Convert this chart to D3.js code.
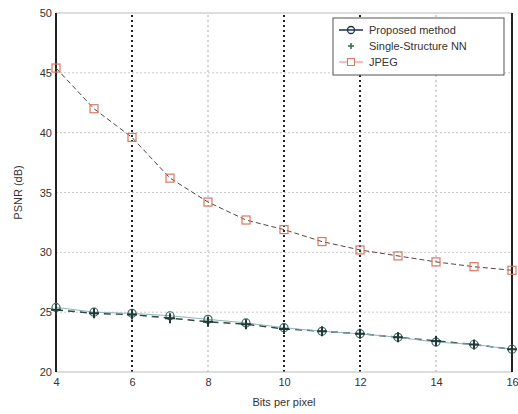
<!DOCTYPE html>
<html>
<head>
<meta charset="utf-8">
<script src="https://cdn.jsdelivr.net/npm/d3@7"></script>
<style>
  body { margin: 0; background: #fff; }
  text { font-family: "Liberation Sans", Arial, sans-serif; fill: #333; }
</style>
</head>
<body>
<svg></svg>
<script>
const bits = [4, 5, 6, 7, 8, 9, 10, 11, 12, 13, 14, 15, 16];
const proposed = [25.4, 25.0, 24.9, 24.7, 24.4, 24.1, 23.7, 23.4, 23.2, 22.9, 22.5, 22.3, 21.9];
const singleNN = [25.2, 24.9, 24.8, 24.5, 24.2, 24.0, 23.6, 23.4, 23.2, 22.9, 22.6, 22.3, 21.9];
const jpeg = [45.4, 42.0, 39.6, 36.2, 34.2, 32.7, 31.9, 30.9, 30.2, 29.7, 29.2, 28.8, 28.5];
const xTicks = [4, 6, 8, 10, 12, 14, 16];
const yTicks = [20, 25, 30, 35, 40, 45, 50];
const seriesNames = ["Proposed method", "Single-Structure NN", "JPEG"];

const width = 518, height = 414;
const margin = { top: 13, right: 6, bottom: 42, left: 56 };

const svg = d3.select("svg").attr("width", width).attr("height", height);

const x = d3.scaleLinear().domain([4, 16]).range([margin.left, width - margin.right]);
const y = d3.scaleLinear().domain([20, 50]).range([height - margin.bottom, margin.top]);

// grid (horizontal light, vertical mixed like the scanned figure)
svg.append("g")
  .selectAll("line")
  .data(yTicks.slice(1, -1))
  .enter()
  .append("line")
  .attr("x1", x(4)).attr("x2", x(16))
  .attr("y1", (d) => y(d)).attr("y2", (d) => y(d))
  .attr("stroke", "#c8c8c8")
  .attr("stroke-dasharray", "2,2");

const darkGrid = [6, 10, 12];
svg.append("g")
  .selectAll("line")
  .data(xTicks.slice(1, -1))
  .enter()
  .append("line")
  .attr("x1", (d) => x(d)).attr("x2", (d) => x(d))
  .attr("y1", y(20)).attr("y2", y(50))
  .attr("stroke", (d) => (darkGrid.includes(d) ? "#222" : "#aaa"))
  .attr("stroke-width", (d) => (darkGrid.includes(d) ? 2 : 1))
  .attr("stroke-dasharray", "2,3");

// frame
svg.append("line").attr("x1", x(4)).attr("x2", x(16)).attr("y1", y(50)).attr("y2", y(50)).attr("stroke", "#bbb");
svg.append("line").attr("x1", x(4)).attr("x2", x(16)).attr("y1", y(20)).attr("y2", y(20)).attr("stroke", "#bbb");
svg.append("line").attr("x1", x(4)).attr("x2", x(4)).attr("y1", y(20)).attr("y2", y(50)).attr("stroke", "#222").attr("stroke-width", 2);
svg.append("line").attr("x1", x(16)).attr("x2", x(16)).attr("y1", y(20)).attr("y2", y(50)).attr("stroke", "#222").attr("stroke-width", 2);

// axes
const xAxis = svg.append("g")
  .attr("transform", `translate(0,${y(20)})`)
  .call(d3.axisBottom(x).tickValues(xTicks).tickSize(0).tickPadding(6));
xAxis.select(".domain").remove();
xAxis.selectAll("text").attr("font-size", 11).attr("fill", "#444");

const yAxis = svg.append("g")
  .attr("transform", `translate(${x(4)},0)`)
  .call(d3.axisLeft(y).tickValues(yTicks).tickSize(0).tickPadding(4));
yAxis.select(".domain").remove();
yAxis.selectAll("text").attr("font-size", 11).attr("fill", "#444");

svg.append("text")
  .attr("x", (x(4) + x(16)) / 2)
  .attr("y", 406)
  .attr("text-anchor", "middle")
  .attr("font-size", 11)
  .text("Bits per pixel");

svg.append("text")
  .attr("transform", `translate(22,${(y(20) + y(50)) / 2}) rotate(-90)`)
  .attr("text-anchor", "middle")
  .attr("font-size", 11)
  .text("PSNR (dB)");

// lines
const line = (vals) => d3.line().x((d, i) => x(bits[i])).y((d) => y(d))(vals);

svg.append("path").attr("d", line(jpeg)).attr("fill", "none")
  .attr("stroke", "#5a4444").attr("stroke-width", 1).attr("stroke-dasharray", "5,3");
svg.append("path").attr("d", line(singleNN)).attr("fill", "none")
  .attr("stroke", "#2f4a3f").attr("stroke-width", 1.5).attr("stroke-dasharray", "7,5");
svg.append("path").attr("d", line(proposed)).attr("fill", "none")
  .attr("stroke", "#8fb5b5").attr("stroke-width", 1);

// markers
svg.append("g").selectAll("rect").data(jpeg).enter().append("rect")
  .attr("x", (d, i) => x(bits[i]) - 4).attr("y", (d) => y(d) - 4)
  .attr("width", 8).attr("height", 8)
  .attr("fill", "none").attr("stroke", "#d9785f").attr("stroke-width", 1.2);

svg.append("g").selectAll("circle").data(proposed).enter().append("circle")
  .attr("cx", (d, i) => x(bits[i])).attr("cy", (d) => y(d)).attr("r", 4)
  .attr("fill", "none").attr("stroke", "#3f6a6a").attr("stroke-width", 1.2);

svg.append("g").selectAll("path").data(singleNN).enter().append("path")
  .attr("d", (d, i) => `M${x(bits[i]) - 5},${y(d)}h10M${x(bits[i])},${y(d) - 5}v10`)
  .attr("stroke", "#223a33").attr("stroke-width", 2);

// legend
const legend = svg.append("g").attr("transform", "translate(333,18)");
legend.append("rect").attr("width", 171).attr("height", 57)
  .attr("fill", "#fff").attr("stroke", "#555");

legend.selectAll("text").data(seriesNames).enter()
  .append("text")
  .attr("x", 36).attr("y", (d, i) => 16 + i * 16)
  .attr("font-size", 11).attr("fill", "#333").text((d) => d);

legend.append("line").attr("x1", 6).attr("x2", 30).attr("y1", 12).attr("y2", 12).attr("stroke", "#1d2f55").attr("stroke-width", 1.5);
legend.append("circle").attr("cx", 18).attr("cy", 12).attr("r", 3.5).attr("fill", "none").attr("stroke", "#1d2f55").attr("stroke-width", 1.3);
legend.append("path").attr("d", "M15,28h6M18,25v6").attr("stroke", "#2f6a4f").attr("stroke-width", 1.5);
legend.append("line").attr("x1", 6).attr("x2", 30).attr("y1", 44).attr("y2", 44).attr("stroke", "#e08080").attr("stroke-width", 1);
legend.append("rect").attr("x", 14.5).attr("y", 40.5).attr("width", 7).attr("height", 7).attr("fill", "#fff").attr("stroke", "#d9785f");
</script>
</body>
</html>
